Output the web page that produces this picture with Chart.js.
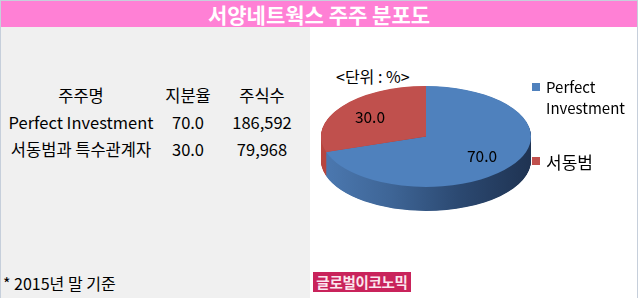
<!DOCTYPE html>
<html>
<head>
<meta charset="utf-8">
<script src="https://cdn.jsdelivr.net/npm/chart.js@4.4.1/dist/chart.umd.min.js"></script>
<style>
  html, body { margin: 0; padding: 0; background: #fff; }
  #frame { position: relative; width: 638px; height: 298px; overflow: hidden; background: #fff;
           font-family: "Noto Sans CJK KR", "Noto Sans", sans-serif; color: #000; }
  .line { position: absolute; background: #c6cfdb; }
  #title { position: absolute; left: 1px; top: 1px; width: 636px; height: 26px; background: #ff80d5;
           color: #fff; font-weight: bold; font-size: 21px; line-height: 26px; text-align: center; }
  #leftPanel { position: absolute; left: 1px; top: 27px; width: 309px; height: 271px; background: #f0f0f0; }
  .c { position: absolute; transform: translate(-50%, -50%); white-space: nowrap; font-size: 16.5px; line-height: 1; }
  .l { position: absolute; transform: translateY(-50%); white-space: nowrap; font-size: 16px; line-height: 1; }
  #unit { left: 336px; top: 76px; }
  #note { left: 3px; top: 283px; }
  #logo { position: absolute; left: 313px; top: 272px; width: 98px; height: 20px; background: #c9235b;
          color: #fbe6ee; font-weight: bold; font-size: 14.5px; line-height: 20px; text-align: center; letter-spacing: -0.3px; }
  #chart { position: absolute; left: 310px; top: 27px; }
  .lg { position: absolute; font-size: 15px; line-height: 21px; }
  .lg i { position: absolute; left: -14px; width: 8px; height: 8px; }
</style>
</head>
<body>
<div id="frame">
  <div id="leftPanel"></div>
  <div id="title">서양네트웍스 주주 분포도</div>
  <div class="line" style="left:0;top:0;width:638px;height:1px"></div>
  <div class="line" style="left:0;top:0;width:1px;height:298px"></div>
  <div class="line" style="left:637px;top:0;width:1px;height:298px"></div>
  <div id="table"></div>
  <div class="l" id="unit">&lt;단위 : %&gt;</div>
  <div class="l" id="note">* 2015년 말 기준</div>
  <div id="logo">글로벌이코노믹</div>
  <canvas id="chart" width="327" height="271"></canvas>
  <div id="legend"></div>
</div>
<script>
// Shareholder data
const tableHeaders = ['주주명', '지분율', '주식수'];
const holders = ['Perfect Investment', '서동범과 특수관계자'];
const stakes = [70.0, 30.0];
const shareCounts = [186592, 79968];

// Pie data
const categories = ['Perfect Investment', '서동범'];
const shares = [70.0, 30.0];
const topColors = ['#4f81bd', '#c0504d'];
const sideColors = [
  ['#4c79b1', '#3e6596', '#2b4870', '#1f3352'],
  ['#b8463f', '#a23d38', '#8a322e', '#742a27']
];

// Table
const colX = [81, 188, 262];
const rowY = [95, 122, 149];
const table = document.getElementById('table');
function cell(text, x, y) {
  const d = document.createElement('div');
  d.className = 'c';
  d.textContent = text;
  d.style.left = x + 'px';
  d.style.top = y + 'px';
  table.appendChild(d);
}
tableHeaders.forEach((h, i) => cell(h, colX[i], rowY[0]));
holders.forEach((h, r) => {
  cell(h, colX[0], rowY[r + 1]);
  cell(stakes[r].toFixed(1), colX[1], rowY[r + 1]);
  cell(shareCounts[r].toLocaleString('en-US'), colX[2], rowY[r + 1]);
});

// Legend
const legend = document.getElementById('legend');
const legendPos = [{ x: 546, y: 76, w: 85 }, { x: 546, y: 151, w: 85 }];
categories.forEach((name, i) => {
  const d = document.createElement('div');
  d.className = 'lg';
  d.style.left = legendPos[i].x + 'px';
  d.style.top = legendPos[i].y + 'px';
  d.style.width = legendPos[i].w + 'px';
  d.style.fontSize = i === 1 ? '17px' : '15px';
  const sw = document.createElement('i');
  sw.style.background = topColors[i];
  sw.style.top = (i === 1 ? 6 : 7) + 'px';
  d.appendChild(sw);
  d.appendChild(document.createTextNode(name));
  legend.appendChild(d);
});

// Tilted pie with extruded side wall
const tilt = 0.48;
const depth = 24;
const pie3d = {
  id: 'pie3d',
  beforeDatasetsDraw(chart) {
    const arcs = chart.getDatasetMeta(0).data;
    if (!arcs.length) return;
    const ctx = chart.ctx;
    const { x, y, outerRadius: r } = arcs[0];
    ctx.save();
    ctx.translate(x, y);
    ctx.scale(1, tilt);
    ctx.translate(-x, -y);
    const steps = depth / tilt;
    // back slices first, front slices last
    const order = arcs.map((a, i) => i).sort((a, b) => {
      const ma = (arcs[a].startAngle + arcs[a].endAngle) / 2;
      const mb = (arcs[b].startAngle + arcs[b].endAngle) / 2;
      return Math.sin(ma) - Math.sin(mb);
    });
    order.forEach(i => {
      const arc = arcs[i];
      const g = ctx.createLinearGradient(x - r, 0, x + r, 0);
      const stops = sideColors[i];
      stops.forEach((c, k) => g.addColorStop(k / (stops.length - 1), c));
      ctx.fillStyle = g;
      for (let d = steps; d > 0; d -= 1) {
        ctx.beginPath();
        ctx.moveTo(x, y + d);
        ctx.arc(x, y + d, r, arc.startAngle, arc.endAngle);
        ctx.closePath();
        ctx.fill();
      }
    });
  },
  afterDatasetsDraw(chart) {
    const ctx = chart.ctx;
    ctx.restore();
    const arcs = chart.getDatasetMeta(0).data;
    ctx.save();
    ctx.fillStyle = '#000';
    ctx.font = '15.5px "Noto Sans CJK KR", sans-serif';
    ctx.textAlign = 'center';
    ctx.textBaseline = 'middle';
    arcs.forEach((arc, i) => {
      const mid = (arc.startAngle + arc.endAngle) / 2;
      const rr = arc.outerRadius * 0.66;
      const lx = arc.x + Math.cos(mid) * rr;
      const ly = arc.y + Math.sin(mid) * rr * tilt;
      ctx.fillText(shares[i].toFixed(1), lx, ly);
    });
    ctx.restore();
  }
};

new Chart(document.getElementById('chart'), {
  type: 'pie',
  data: {
    labels: categories,
    datasets: [{
      data: shares,
      backgroundColor: topColors,
      borderWidth: 0,
      hoverOffset: 0,
      clip: false
    }]
  },
  options: {
    responsive: false,
    animation: false,
    devicePixelRatio: 1,
    layout: { padding: { left: 11, right: 106, top: 4, bottom: 56 } },
    plugins: { legend: { display: false }, tooltip: { enabled: false } },
    events: []
  },
  plugins: [pie3d]
});
</script>
</body>
</html>
